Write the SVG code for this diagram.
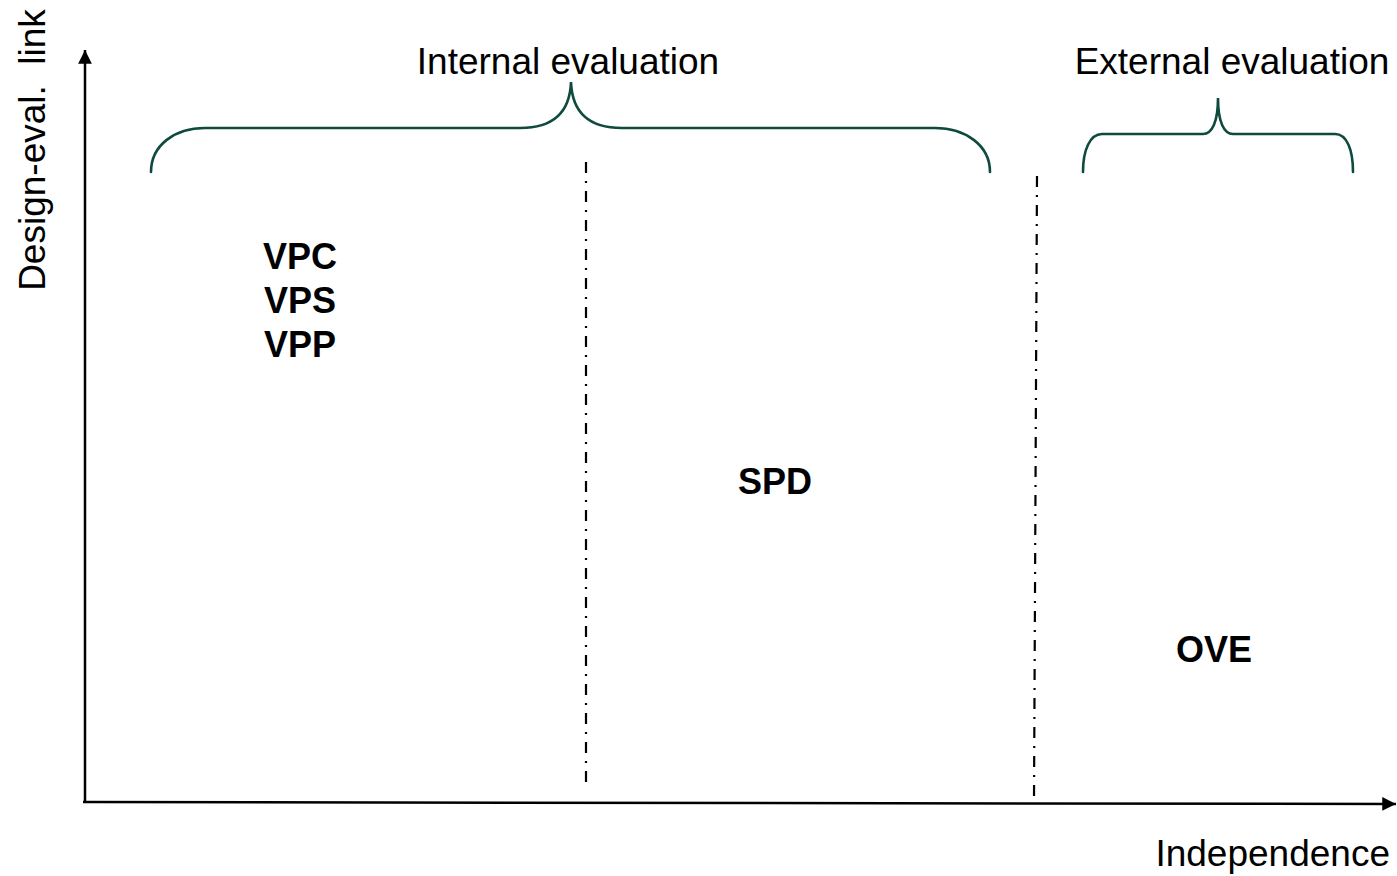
<svg xmlns="http://www.w3.org/2000/svg" width="1397" height="876" viewBox="0 0 1397 876">
<style>
.lbl{font-family:"Liberation Sans",Arial,sans-serif;font-size:37px;fill:#000}
.bold{font-family:"Liberation Sans",Arial,sans-serif;font-size:36px;font-weight:bold;fill:#000;text-anchor:middle}
.brace{fill:none;stroke:#0f4a3e;stroke-width:2.6;stroke-linecap:round}
.axis{fill:none;stroke:#000;stroke-width:2.5}
.div{fill:none;stroke:#000;stroke-width:2.2;stroke-dasharray:11 8 2 8}
</style>
<defs>
<marker id="arr" viewBox="0 0 10 10" refX="10" refY="5" markerWidth="6" markerHeight="5.5" orient="auto" markerUnits="strokeWidth">
<path d="M0,0 L10,5 L0,10 z" fill="#000"/>
</marker>
</defs>
<g id="connectors">
<line class="axis" x1="85" y1="802" x2="85" y2="50" marker-end="url(#arr)"/>
<line class="axis" x1="83" y1="802" x2="1396" y2="804" marker-end="url(#arr)"/>
<line class="div" x1="586" y1="162" x2="586" y2="790"/>
<line class="div" x1="1037" y1="176" x2="1034" y2="800"/>
</g>
<g id="brace-internal">
<path class="brace" d="M151,172 C151,145 175,128 205,128 L520,128 C555,128 570,110 571,82 C572,110 587,128 622,128 L935,128 C965,128 990,145 990,172"/>
<text class="lbl" x="568" y="74" text-anchor="middle">Internal evaluation</text>
</g>
<g id="brace-external">
<path class="brace" d="M1083,172 C1083,150 1090,134 1102,134 L1203,134 C1212,134 1218,122 1218,98 C1218,122 1224,134 1233,134 L1335,134 C1347,134 1353,150 1353,172"/>
<text class="lbl" x="1232" y="74" text-anchor="middle">External evaluation</text>
</g>
<g id="axis-labels">
<text class="lbl" transform="translate(45,150) rotate(-90)" text-anchor="middle" xml:space="preserve">Design-eval.  link</text>
<text class="lbl" x="1390" y="866" text-anchor="end">Independence</text>
</g>
<g id="node-vp">
<text class="bold" x="300" y="269">VPC</text>
<text class="bold" x="300" y="313">VPS</text>
<text class="bold" x="300" y="357">VPP</text>
</g>
<g id="node-spd">
<text class="bold" x="775" y="494">SPD</text>
</g>
<g id="node-ove">
<text class="bold" x="1214" y="662">OVE</text>
</g>
</svg>
